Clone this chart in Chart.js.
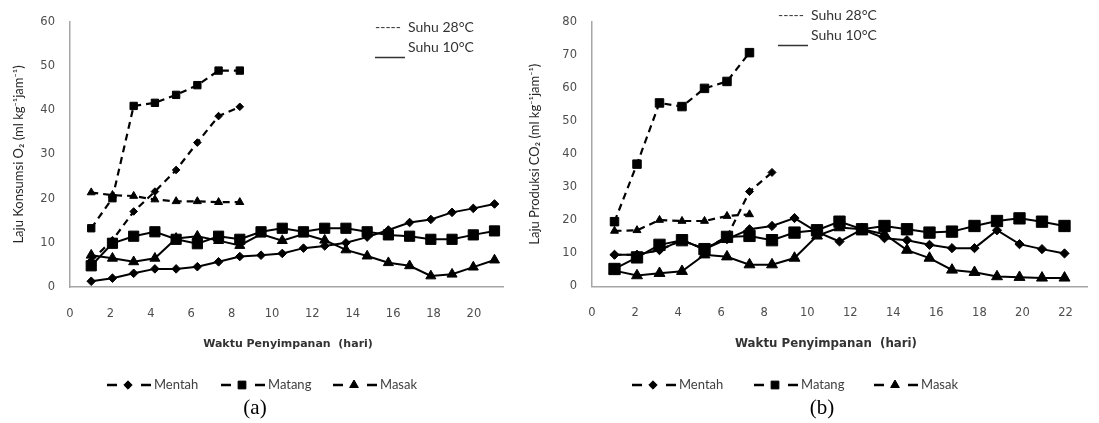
<!DOCTYPE html>
<html>
<head>
<meta charset="utf-8">
<script src="https://cdn.jsdelivr.net/npm/chart.js@4.4.1/dist/chart.umd.min.js"></script>
<style>
  body { margin: 0; background: #fff; }
  #wrap { position: relative; width: 1099px; height: 423px; overflow: hidden; background: #fff; }
  #ca { position: absolute; left: 0; top: 0; }
  #cb { position: absolute; left: 520px; top: 0; }
</style>
</head>
<body>
<div id="wrap">
  <canvas id="ca" width="520" height="423"></canvas>
  <canvas id="cb" width="579" height="423"></canvas>
</div>
<script>
// (a) Laju konsumsi O2
const hariA10 = [1, 2, 3, 4, 5, 6, 7, 8, 9, 10, 11, 12, 13, 14, 15, 16, 17, 18, 19, 20];
const hariA28 = [1, 2, 3, 4, 5, 6, 7, 8];
const o2Mentah28 = [6.0, 10.6, 17.1, 21.6, 26.5, 32.7, 38.7, 40.8];
const o2Matang28 = [13.3, 20.1, 41.0, 41.7, 43.5, 45.7, 49.0, 49.0];
const o2Masak28 = [21.4, 20.8, 20.6, 19.8, 19.4, 19.4, 19.2, 19.2];
const o2Mentah10 = [1.3, 2.0, 3.1, 4.1, 4.1, 4.6, 5.7, 6.9, 7.2, 7.6, 8.8, 9.3, 10.0, 11.3, 12.9, 14.6, 15.3, 16.9, 17.8, 18.8];
const o2Matang10 = [4.8, 9.9, 11.5, 12.5, 10.8, 9.8, 11.5, 10.8, 12.5, 13.3, 12.5, 13.3, 13.3, 12.5, 11.8, 11.5, 10.8, 10.8, 11.8, 12.7];
const o2Masak10 = [7.2, 6.5, 5.7, 6.5, 11.0, 11.5, 10.5, 9.4, 12.0, 10.5, 12.0, 10.6, 8.4, 7.0, 5.5, 4.8, 2.5, 2.9, 4.5, 6.1];

// (b) Laju produksi CO2
const hariB10 = [1, 2, 3, 4, 5, 6, 7, 8, 9, 10, 11, 12, 13, 14, 15, 16, 17, 18, 19, 20, 21];
const hariB28 = [1, 2, 3, 4, 5, 6, 7, 8];
const co2Mentah28 = [9.6, 9.6, 11.0, 14.0, 11.3, 15.0, 28.7, 34.5];
const co2Matang28 = [19.6, 37.0, 55.5, 54.4, 59.9, 62.0, 70.7];
const co2Masak28 = [16.8, 17.0, 20.1, 19.8, 19.8, 21.3, 21.8];
const co2Mentah10 = [9.6, 9.6, 11.0, 14.0, 11.3, 14.3, 17.3, 18.3, 20.7, 16.5, 13.6, 17.3, 14.6, 14.0, 12.6, 11.6, 11.6, 17.0, 12.8, 11.3, 10.0];
const co2Matang10 = [5.3, 8.8, 12.6, 14.0, 11.3, 15.0, 15.3, 14.0, 16.3, 17.0, 19.6, 17.3, 18.3, 17.3, 16.3, 16.6, 18.3, 19.8, 20.6, 19.6, 18.3];
const co2Masak10 = [4.8, 3.3, 4.0, 4.6, 9.6, 9.0, 6.6, 6.6, 8.6, 15.3, 17.8, 17.3, 15.8, 11.0, 8.6, 5.0, 4.3, 3.0, 2.8, 2.6, 2.6];

const xTitle = "Waktu Penyimpanan  (hari)";
const legendNames = ["Mentah", "Matang", "Masak"];
const legendStyles = ["rectRot", "rect", "triangle"];

const axisColor = "#a6a6a6";
const textColor = "#4d4d4d";

function pts(xs, ys) {
  return ys.map((v, i) => ({ x: xs[i], y: v }));
}

function series(xs, ys, style, dashed, radius) {
  return {
    data: pts(xs, ys),
    borderColor: "#000",
    backgroundColor: "#000",
    pointBackgroundColor: "#000",
    pointBorderColor: "#000",
    borderWidth: dashed ? 2.2 : 2,
    borderDash: dashed ? [7, 5] : [],
    pointStyle: style,
    pointRadius: radius,
    pointHoverRadius: radius,
    pointBorderWidth: 1,
    tension: 0,
  };
}

// extra texts: suhu notes, x title, custom legend, panel label
function extras(o) {
  return {
    id: "extras",
    afterDraw(chart) {
      const ctx = chart.ctx;
      ctx.save();
      ctx.setLineDash([]);
      ctx.textBaseline = "middle";

      // suhu notes
      ctx.fillStyle = "#333";
      ctx.font = "14px Lato";
      ctx.textAlign = "left";
      ctx.fillText("-----", o.noteX, o.noteY);
      ctx.fillText("Suhu 28°C", o.noteX + 33, o.noteY);
      ctx.fillText("Suhu 10°C", o.noteX + 33, o.noteY + 20);
      ctx.strokeStyle = "#333";
      ctx.lineWidth = 1.5;
      ctx.beginPath();
      ctx.moveTo(o.noteX, o.noteY + 30.5);
      ctx.lineTo(o.noteX + 30, o.noteY + 30.5);
      ctx.stroke();

      // x axis title
      ctx.fillStyle = "#333";
      ctx.font = "bold " + o.xTitleSize + "px 'DejaVu Sans'";
      ctx.textAlign = "center";
      ctx.fillText(xTitle, o.xTitleX, 344);

      // legend
      const y = 385;
      ctx.font = "13px Lato";
      ctx.textAlign = "left";
      legendNames.forEach((name, i) => {
        const x = o.legendX[i];
        ctx.strokeStyle = "#000";
        ctx.lineWidth = 2.5;
        ctx.beginPath();
        ctx.moveTo(x, y);
        ctx.lineTo(x + 10, y);
        ctx.moveTo(x + 34, y);
        ctx.lineTo(x + 44, y);
        ctx.stroke();
        ctx.fillStyle = "#000";
        ctx.lineWidth = 1;
        const r = legendStyles[i] === "rect" ? 5.5 : (legendStyles[i] === "triangle" ? 5 : 4.2);
        Chart.helpers.drawPoint(ctx, { pointStyle: legendStyles[i], radius: r, rotation: 0, borderWidth: 1 }, x + 21, y);
        ctx.fillStyle = "#404040";
        ctx.fillText(name, x + 47, y);
      });

      // panel label
      ctx.fillStyle = "#000";
      ctx.font = "21px 'Liberation Serif'";
      ctx.textAlign = "center";
      ctx.fillText(o.panel, o.panelX, 408);
      ctx.restore();
    },
  };
}

function makeChart(id, o) {
  return new Chart(document.getElementById(id), {
    type: "line",
    data: { datasets: o.datasets },
    options: {
      responsive: false,
      animation: false,
      devicePixelRatio: 1,
      layout: { padding: o.padding },
      plugins: { legend: { display: false }, tooltip: { enabled: false } },
      scales: {
        x: { type: "linear", display: false, min: 0, max: o.xMax },
        xt: {
          type: "linear",
          position: "bottom",
          min: 0,
          max: o.xtMax,
          grid: { display: false, drawTicks: false },
          border: { display: true, color: axisColor, width: 1.5 },
          ticks: { stepSize: 2, includeBounds: false, padding: 20, color: textColor, font: { family: "DejaVu Sans", size: 11.5 } },
          afterFit: (a) => { a.height = o.bottomH; },
        },
        y: {
          min: 0,
          max: o.yMax,
          grid: { display: false, drawTicks: false },
          border: { display: true, color: axisColor, width: 1.5 },
          ticks: { stepSize: 10, padding: 15, color: textColor, font: { family: "DejaVu Sans", size: 11.5 } },
          title: {
            display: true,
            text: o.yTitle,
            color: "#262626",
            font: { family: "Lato", size: 13 },
            padding: { top: o.titlePad, bottom: 0 },
          },
          afterFit: (a) => { a.width = o.leftW; },
        },
      },
    },
    plugins: [extras(o)],
  });
}

makeChart("ca", {
  datasets: [
    series(hariA28, o2Mentah28, "rectRot", true, 3.8),
    series(hariA28, o2Matang28, "rect", true, 5.2),
    series(hariA28, o2Masak28, "triangle", true, 4.6),
    series(hariA10, o2Mentah10, "rectRot", false, 4.3),
    series(hariA10, o2Matang10, "rect", false, 7.2),
    series(hariA10, o2Masak10, "triangle", false, 5.8),
  ],
  padding: { left: 0, top: 22, right: 17, bottom: 0 },
  leftW: 70,
  bottomH: 136,
  xMax: 20.4,
  xtMax: 21.44,
  yMax: 60,
  yTitle: "Laju Konsumsi O₂ (ml kg⁻¹jam⁻¹)",
  titlePad: 11,
  noteX: 375,
  noteY: 27,
  xTitleX: 288,
  xTitleSize: 11,
  legendX: [107, 221, 333],
  panel: "(a)",
  panelX: 255,
});

makeChart("cb", {
  datasets: [
    series(hariB28, co2Mentah28, "rectRot", true, 4),
    series(hariB28, co2Matang28, "rect", true, 6),
    series(hariB28, co2Masak28, "triangle", true, 4.6),
    series(hariB10, co2Mentah10, "rectRot", false, 4.6),
    series(hariB10, co2Matang10, "rect", false, 8),
    series(hariB10, co2Masak10, "triangle", false, 6.3),
  ],
  padding: { left: 0, top: 18.5, right: 12, bottom: 0 },
  leftW: 72,
  bottomH: 136.5,
  xMax: 22,
  xtMax: 23,
  yMax: 80,
  yTitle: "Laju Produksi CO₂ (ml kg⁻¹jam⁻¹)",
  titlePad: 7,
  noteX: 258,
  noteY: 15,
  xTitleX: 306,
  xTitleSize: 11.8,
  legendX: [112, 234, 354],
  panel: "(b)",
  panelX: 302,
});
</script>
</body>
</html>
